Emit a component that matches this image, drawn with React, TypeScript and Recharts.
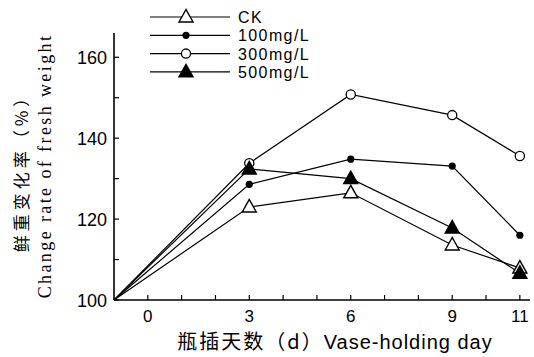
import { Line, LineChart, XAxis, YAxis } from "recharts";

// Vase-holding day; the first point sits at the axis origin
const days = [-1, 3, 6, 9, 11];
const ck = [100, 123, 126.5, 113.6, 107.9];
const mg100 = [100, 128.6, 134.8, 133.1, 116];
const mg300 = [100, 133.8, 150.8, 145.7, 135.6];
const mg500 = [100, 132.4, 130, 117.8, 106.6];

const xTicks = [0, 1, 2, 3, 4, 5, 6, 7, 8, 9, 10, 11];
const xLabels = [0, 3, 6, 9, 11];
const yTicks = [100, 110, 120, 130, 140, 150, 160];
const yLabels = [100, 120, 140, 160];

const data = days.map((d, i) => ({
  day: d,
  ck: ck[i],
  mg100: mg100[i],
  mg300: mg300[i],
  mg500: mg500[i],
}));

const SANS = "'Liberation Sans', Arial, sans-serif";
const CJK = "'Noto Sans CJK SC', sans-serif";

type MarkKind = "openTri" | "dot" | "openCircle" | "filledTri";

function Mark({ kind, cx, cy }: { kind: MarkKind; cx: number; cy: number }) {
  if (kind === "dot") return <circle cx={cx} cy={cy} r={3.6} fill="#000" />;
  if (kind === "openCircle")
    return <circle cx={cx} cy={cy} r={4.6} fill="#fff" stroke="#000" strokeWidth={1.3} />;
  const pts = `${cx},${cy - 7.5} ${cx - 7},${cy + 5} ${cx + 7},${cy + 5}`;
  return (
    <polygon
      points={pts}
      fill={kind === "filledTri" ? "#000" : "#fff"}
      stroke="#000"
      strokeWidth={1.4}
    />
  );
}

const dotFor = (kind: MarkKind) => (props: any) => {
  const { cx, cy, index } = props;
  if (index === 0 || cx == null) return <g key={`e${index}`} />;
  return (
    <g key={`${kind}${index}`}>
      <Mark kind={kind} cx={cx} cy={cy} />
    </g>
  );
};

const XTick = (props: any) => {
  const { x, y, payload } = props;
  const show = xLabels.includes(payload.value);
  return (
    <g>
      <line x1={x} x2={x} y1={y} y2={y - 5} stroke="#000" strokeWidth={1.2} />
      {show && (
        <text x={x} y={y + 22} textAnchor="middle" fontSize={17} fontFamily={SANS} fill="#000">
          {payload.value}
        </text>
      )}
    </g>
  );
};

const YTick = (props: any) => {
  const { x, y, payload } = props;
  const show = yLabels.includes(payload.value);
  return (
    <g>
      <line x1={x} x2={x + 5} y1={y} y2={y} stroke="#000" strokeWidth={1.2} />
      {show && (
        <text x={x - 7} y={y + 6.5} textAnchor="end" fontSize={18} fontFamily={SANS} fill="#000">
          {payload.value}
        </text>
      )}
    </g>
  );
};

const legendItems: { label: string; kind: MarkKind }[] = [
  { label: "CK", kind: "openTri" },
  { label: "100mg/L", kind: "dot" },
  { label: "300mg/L", kind: "openCircle" },
  { label: "500mg/L", kind: "filledTri" },
];

export default function App() {
  return (
    <div style={{ position: "absolute", left: 0, top: 0, width: 534, height: 357, background: "#fff" }}>
      <LineChart
        width={534}
        height={357}
        data={data}
        margin={{ top: 33, right: 4, bottom: 0, left: 0 }}
      >
        <XAxis
          dataKey="day"
          type="number"
          domain={[-1, 11.3]}
          ticks={xTicks}
          interval={0}
          tick={<XTick />}
          tickLine={false}
          tickSize={0}
          tickMargin={0}
          height={57}
          axisLine={{ stroke: "#000", strokeWidth: 1.6 }}
          stroke="#000"
        />
        <YAxis
          type="number"
          domain={[100, 166]}
          ticks={yTicks}
          interval={0}
          tick={<YTick />}
          tickLine={false}
          tickSize={0}
          tickMargin={0}
          width={114}
          axisLine={{ stroke: "#000", strokeWidth: 1.6 }}
          stroke="#000"
        />
        <Line dataKey="ck" stroke="#000" strokeWidth={1.2} dot={dotFor("openTri")} isAnimationActive={false} />
        <Line dataKey="mg100" stroke="#000" strokeWidth={1.2} dot={dotFor("dot")} isAnimationActive={false} />
        <Line dataKey="mg300" stroke="#000" strokeWidth={1.2} dot={dotFor("openCircle")} isAnimationActive={false} />
        <Line dataKey="mg500" stroke="#000" strokeWidth={1.2} dot={dotFor("filledTri")} isAnimationActive={false} />
      </LineChart>

      <svg width={534} height={357} style={{ position: "absolute", left: 0, top: 0, pointerEvents: "none" }}>
        {legendItems.map((it, i) => {
          const y = 17 + i * 18.3;
          return (
            <g key={it.label}>
              <line x1={150} x2={230} y1={y} y2={y} stroke="#000" strokeWidth={1.2} />
              <Mark kind={it.kind} cx={186} cy={y} />
              <text x={238} y={y + 6} fontSize={16} letterSpacing={1.4} fontFamily={SANS} fill="#000">
                {it.label}
              </text>
            </g>
          );
        })}
        <g transform="translate(28,169) rotate(-90)">
          <text textAnchor="middle" fontSize={17} letterSpacing={4} fontFamily={CJK} fill="#000">
            鲜重变化率（%）
          </text>
        </g>
        <g transform="translate(51,166) rotate(-90)">
          <text textAnchor="middle" fontSize={18} letterSpacing={2.4} fontFamily="'Liberation Serif', serif" fill="#000">
            Change rate of fresh weight
          </text>
        </g>
        <text x={335} y={349} textAnchor="middle" fontSize={20} letterSpacing={1} fontFamily={SANS} fill="#000">
          <tspan fontFamily={CJK} letterSpacing={2}>瓶插天数（d）</tspan>
          <tspan>Vase-holding day</tspan>
        </text>
      </svg>
    </div>
  );
}
